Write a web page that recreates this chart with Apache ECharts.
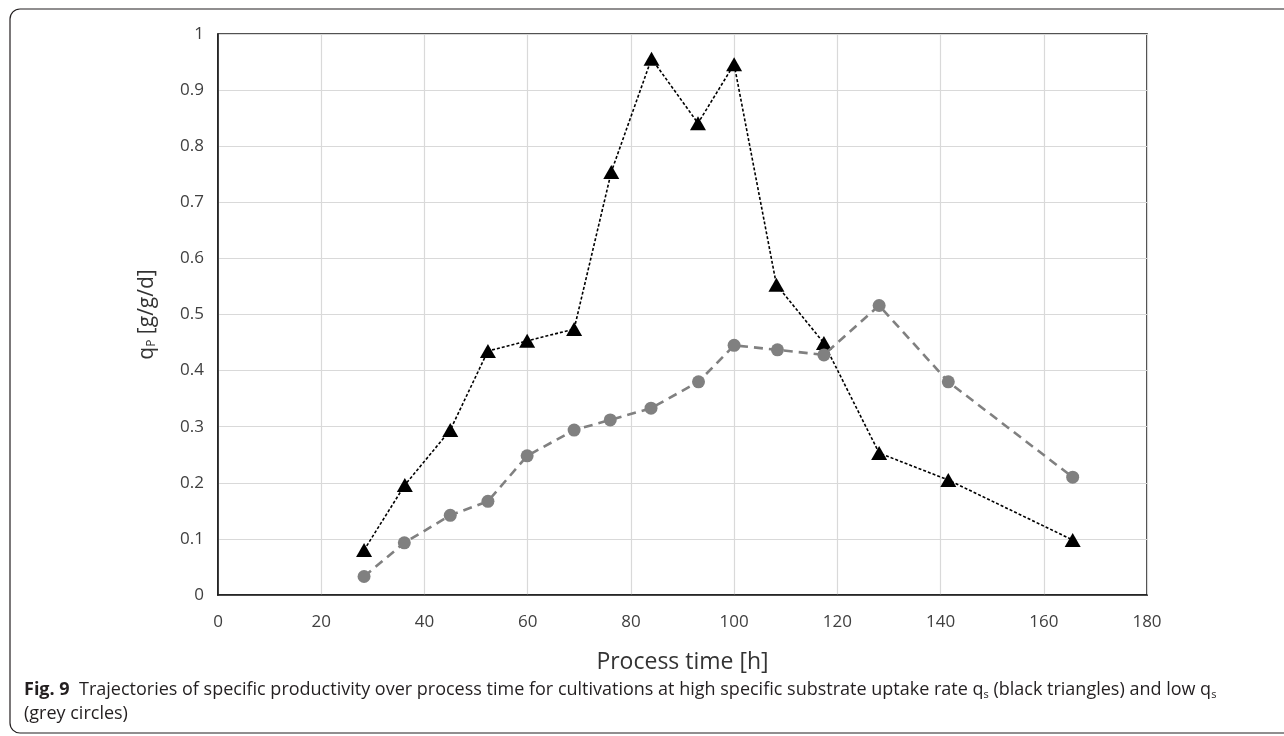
<!DOCTYPE html>
<html lang="en">

<head>
    <meta charset="utf-8" />
    <title>Fig. 9 specific productivity</title>
    <script src="https://cdn.jsdelivr.net/npm/echarts@6/dist/echarts.min.js"></script>
    <style>
        html, body { margin: 0; padding: 0; background: #fff; }
        #chart { width: 1284px; height: 736px; }
    </style>
</head>

<body>
    <div id="chart"></div>
    <script type="text/javascript">
        // process time [h]
        var timeHigh = [28.3, 36.2, 45.0, 52.3, 59.9, 69.0, 76.2, 84.0, 93.0, 100.0, 108.2, 117.4, 128.1, 141.5, 165.6];
        var qpHigh = [0.080, 0.196, 0.294, 0.435, 0.453, 0.474, 0.754, 0.956, 0.841, 0.946, 0.553, 0.449, 0.253, 0.205, 0.098];

        var timeLow = [28.3, 36.1, 45.0, 52.3, 59.9, 69.0, 76.0, 83.9, 93.1, 100.0, 108.4, 117.4, 128.1, 141.5, 165.6];
        var qpLow = [0.033, 0.093, 0.142, 0.167, 0.248, 0.294, 0.312, 0.333, 0.380, 0.445, 0.437, 0.428, 0.516, 0.380, 0.210];

        var xTitle = 'Process time [h]';
        var captionLine1 = '{b|Fig. 9}{t|  Trajectories of specific productivity over process time for cultivations at high specific substrate uptake rate q}{s|s}{t| (black triangles) and low q}{s|s}';
        var captionLine2 = '(grey circles)';

        function pairs(xs, ys) {
            var out = [];
            for (var i = 0; i < xs.length; i++) {
                out.push([xs[i], ys[i]]);
            }
            return out;
        }

        var axisText = { color: '#404040', fontFamily: 'Open Sans', fontSize: 17 };
        var capSize = 18;

        var option = {
            animation: false,
            backgroundColor: '#fff',
            grid: {
                left: 218,
                right: 137,
                top: 34,
                bottom: 141,
                show: true,
                borderColor: '#1a1a1a',
                borderWidth: 1.6
            },
            xAxis: {
                type: 'value',
                min: 0,
                max: 180,
                interval: 20,
                name: xTitle,
                nameLocation: 'middle',
                nameGap: 56,
                nameTextStyle: { color: '#333', fontFamily: 'Open Sans', fontSize: 23 },
                axisLine: { show: true, lineStyle: { color: '#1a1a1a', width: 1.6 } },
                axisTick: { show: false },
                axisLabel: Object.assign({ margin: 19 }, axisText),
                splitLine: { lineStyle: { color: '#d9d9d9', width: 1.2 } }
            },
            yAxis: {
                type: 'value',
                min: 0,
                max: 1,
                interval: 0.1,
                name: '{t|q}{sub|P}{t| [g/g/d]}',
                nameLocation: 'middle',
                nameGap: 60,
                nameTextStyle: {
                    rich: {
                        t: { color: '#333', fontFamily: 'Open Sans', fontSize: 21 },
                        sub: { color: '#333', fontFamily: 'Open Sans', fontSize: 12, verticalAlign: 'bottom', padding: [10, 0, 0, 0] }
                    }
                },
                axisLine: { show: true, lineStyle: { color: '#1a1a1a', width: 1.6 } },
                axisTick: { show: false },
                axisLabel: Object.assign({ margin: 14 }, axisText),
                splitLine: { lineStyle: { color: '#d9d9d9', width: 1.2 } }
            },
            graphic: [
                {
                    type: 'rect',
                    shape: { x: 10, y: 9, width: 1320, height: 724, r: 10 },
                    style: { fill: 'none', stroke: '#231f20', lineWidth: 1.2 },
                    silent: true
                },
                {
                    type: 'text',
                    left: 24,
                    top: 681,
                    style: {
                        text: captionLine1,
                        rich: {
                            b: { fontWeight: 'bold', fontSize: capSize, fontFamily: 'Open Sans', fill: '#231f20' },
                            t: { fontSize: capSize, fontFamily: 'Open Sans', fill: '#231f20' },
                            s: { fontSize: 11, fontFamily: 'Open Sans', fill: '#231f20', verticalAlign: 'bottom', padding: [10, 0, 0, 0] }
                        }
                    }
                },
                {
                    type: 'text',
                    left: 24,
                    top: 705,
                    style: {
                        text: captionLine2,
                        fill: '#231f20',
                        fontSize: capSize,
                        fontFamily: 'Open Sans'
                    }
                }
            ],
            series: [
                {
                    name: 'high qs',
                    type: 'line',
                    data: pairs(timeHigh, qpHigh),
                    symbol: 'triangle',
                    symbolSize: [16, 14],
                    itemStyle: { color: '#000' },
                    lineStyle: { color: '#000', width: 1.6, type: [3, 2] },
                    z: 2
                },
                {
                    name: 'low qs',
                    type: 'line',
                    data: pairs(timeLow, qpLow),
                    symbol: 'circle',
                    symbolSize: 13,
                    itemStyle: { color: '#808080' },
                    lineStyle: { color: '#808080', width: 2.6, type: [9, 6] },
                    z: 3
                }
            ]
        };

        var chart = echarts.init(document.getElementById('chart'));
        chart.setOption(option);
    </script>
</body>

</html>
